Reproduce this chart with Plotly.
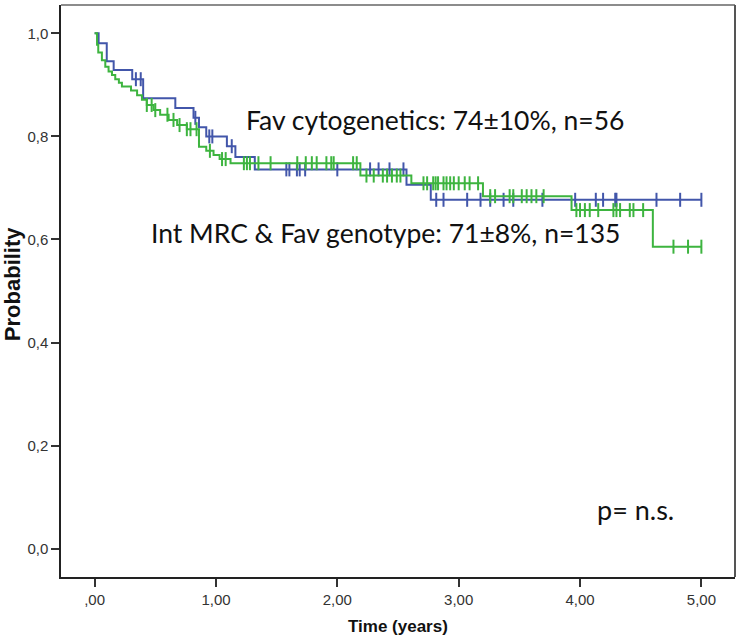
import numpy as np
import plotly.graph_objects as go

# Kaplan-Meier step data: event times (years) and survival after each event
fav_cyto_times = [0.0, 0.033, 0.10, 0.157, 0.31, 0.40, 0.665, 0.815, 0.86, 0.92,
                  1.09, 1.16, 1.32, 2.57, 2.77]
fav_cyto_surv = [1.0, 0.981, 0.946, 0.929, 0.911, 0.874, 0.855, 0.836, 0.818, 0.800,
                 0.781, 0.760, 0.736, 0.706, 0.677]
fav_cyto_censored = [0.34, 0.38, 0.83, 0.945, 0.97, 1.13, 1.58, 1.605, 1.667, 1.69,
                     1.735, 2.0, 2.27, 2.34, 2.43, 2.545, 2.815, 2.875, 3.07, 3.18,
                     3.26, 3.37, 3.45, 3.69, 3.96, 4.13, 4.19, 4.29, 4.30, 4.63,
                     4.825, 5.0]

int_mrc_times = [0.0, 0.02, 0.03, 0.06, 0.088, 0.115, 0.143, 0.17, 0.20, 0.225,
                 0.30, 0.35, 0.39, 0.43, 0.486, 0.54, 0.61, 0.68, 0.76, 0.86,
                 0.92, 0.98, 1.03, 1.12, 2.19, 2.61, 3.20, 3.93, 4.60]
int_mrc_surv = [1.0, 0.978, 0.963, 0.948, 0.935, 0.926, 0.919, 0.911, 0.904, 0.897,
                0.889, 0.880, 0.871, 0.861, 0.851, 0.842, 0.832, 0.822, 0.814, 0.780,
                0.772, 0.764, 0.756, 0.748, 0.724, 0.709, 0.684, 0.657, 0.586]
int_mrc_censored = [0.43, 0.47, 0.50, 0.60, 0.65, 0.70, 0.76, 0.79, 0.84, 0.95,
                    1.05, 1.08, 1.23, 1.255, 1.28, 1.35, 1.45, 1.67, 1.74, 1.79,
                    1.83, 1.91, 1.95, 1.97, 2.13, 2.16, 2.24, 2.30, 2.375, 2.41,
                    2.45, 2.49, 2.52, 2.71, 2.74, 2.79, 2.81, 2.83, 2.875, 2.90,
                    2.93, 2.96, 3.0, 3.05, 3.09, 3.16, 3.26, 3.30, 3.42, 3.45,
                    3.52, 3.56, 3.60, 3.64, 3.70, 3.97, 4.0, 4.04, 4.08, 4.15,
                    4.275, 4.30, 4.33, 4.41, 4.44, 4.52, 4.77, 4.89, 5.0]

x_tick_vals = [0, 1, 2, 3, 4, 5]
x_tick_text = [",00", "1,00", "2,00", "3,00", "4,00", "5,00"]
y_tick_vals = [0.0, 0.2, 0.4, 0.6, 0.8, 1.0]
y_tick_text = ["0,0", "0,2", "0,4", "0,6", "0,8", "1,0"]

BLUE = "#4256aa"
GREEN = "#3db43f"


def survival_at(times, surv, t):
    idx = np.searchsorted(np.asarray(times), t, side="right") - 1
    return np.asarray(surv)[idx]


def km_traces(times, surv, censored, color, name):
    end = max(max(censored), times[-1])
    xs = list(times) + [end]
    ys = list(surv) + [surv[-1]]
    line = go.Scatter(x=xs, y=ys, mode="lines", line=dict(color=color, width=2, shape="hv"),
                      name=name, showlegend=False, hoverinfo="skip")
    cens = go.Scatter(x=censored, y=survival_at(times, surv, censored), mode="markers",
                      marker=dict(symbol="line-ns-open", size=10, color=color,
                                  line=dict(color=color, width=2)),
                      name=name + " censored", showlegend=False, hoverinfo="skip")
    return [line, cens]


fig = go.Figure()
for tr in km_traces(fav_cyto_times, fav_cyto_surv, fav_cyto_censored, BLUE, "Fav cytogenetics"):
    fig.add_trace(tr)
for tr in km_traces(int_mrc_times, int_mrc_surv, int_mrc_censored, GREEN, "Int MRC & Fav genotype"):
    fig.add_trace(tr)

tick_font = dict(family="Liberation Sans Narrow, Arial Narrow, Liberation Sans, Arial", size=15, color="#333")
label_font = dict(family="Lato, Carlito, Calibri, sans-serif", color="#111")

fig.update_layout(
    width=736, height=644,
    margin=dict(l=61, r=1, t=5, b=67),
    plot_bgcolor="white", paper_bgcolor="white",
    xaxis=dict(range=[-0.277, 5.277], tickvals=x_tick_vals, ticktext=x_tick_text,
               ticks="outside", ticklen=8, tickwidth=1.5, tickcolor="#333",
               showline=True, linecolor="#222", linewidth=1.5,
               showgrid=False, zeroline=False, tickfont=tick_font),
    yaxis=dict(range=[-0.055, 1.055], tickvals=y_tick_vals, ticktext=y_tick_text,
               ticks="outside", ticklen=8, tickwidth=1.5, tickcolor="#333",
               showline=True, linecolor="#222", linewidth=1.5,
               showgrid=False, zeroline=False, tickfont=tick_font),
    shapes=[
        dict(type="line", xref="paper", yref="paper", x0=0, x1=1, y0=1, y1=1,
             line=dict(color="#8c8c8c", width=2)),
        dict(type="line", xref="paper", yref="paper", x0=1, x1=1, y0=0, y1=1,
             line=dict(color="#555", width=2)),
    ],
    annotations=[
        dict(text="Time (years)", xref="paper", yref="paper", x=0.5, y=-0.087,
             showarrow=False, xanchor="center", yanchor="middle",
             font=dict(family="Liberation Sans, Arial", size=17, color="#111", weight="bold")),
        dict(text="Probability", xref="paper", yref="paper", x=-0.0727, y=0.512,
             textangle=-90, showarrow=False, xanchor="center", yanchor="middle",
             font=dict(family="Liberation Sans, Arial", size=22, color="#111", weight="bold")),
        dict(text="Fav cytogenetics: 74±10%, n=56", xref="paper", yref="paper",
             x=(434.5 - 61) / 674, y=(577.3 - 120) / 572, showarrow=False,
             xanchor="center", yanchor="middle", font=dict(size=26.5, **label_font)),
        dict(text="Int MRC & Fav genotype: 71±8%, n=135", xref="paper", yref="paper",
             x=(385 - 61) / 674, y=(577.3 - 233) / 572, showarrow=False,
             xanchor="center", yanchor="middle", font=dict(size=26.5, **label_font)),
        dict(text="p= n.s.", xref="paper", yref="paper",
             x=(635.5 - 61) / 674, y=(577.3 - 510) / 572, showarrow=False,
             xanchor="center", yanchor="middle", font=dict(size=27, **label_font)),
    ],
)

fig.write_html("out.html")
